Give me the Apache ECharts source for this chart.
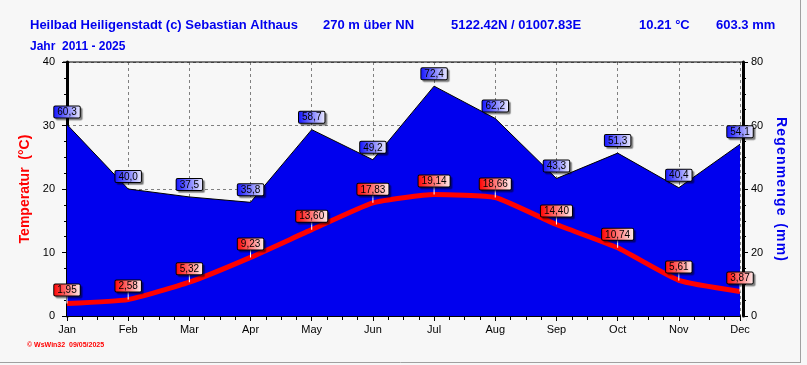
<!DOCTYPE html>
<html>
<head>
<meta charset="utf-8">
<script src="https://cdn.jsdelivr.net/npm/echarts@6/dist/echarts.min.js"></script>
<style>html,body{margin:0;padding:0;background:#f7f7f7;}#c{width:807px;height:365px;}</style>
</head>
<body>
<div id="c"></div>
<script>
const months = ['Jan','Feb','Mar','Apr','May','Jun','Jul','Aug','Sep','Oct','Nov','Dec'];
const temperature = [1.95, 2.58, 5.32, 9.23, 13.60, 17.83, 19.14, 18.66, 14.40, 10.74, 5.61, 3.87];
const rainfall = [60.3, 40.0, 37.5, 35.8, 58.7, 49.2, 72.4, 62.2, 43.3, 51.3, 40.4, 54.1];
const tempTicks = [0, 10, 20, 30, 40];
const rainTicks = [0, 20, 40, 60, 80];

const tempData = temperature.map((v, i) => [i, v]);
const rainData = rainfall.map((v, i) => [i, v]);
const blue = '#0000ee';
const font = 'Liberation Sans, Arial, sans-serif';
const spaced = s => s.split('').join('\u200A');

const chart = echarts.init(document.getElementById('c'), null, {renderer: 'canvas'});
const titleStyle = {fontSize: 13, fontWeight: 'bold', color: blue, fontFamily: font};
const labelBase = {
  show: true, position: 'top', color: '#000', fontSize: 10, fontFamily: font,
  borderColor: '#000', borderWidth: 1, borderRadius: 1, padding: [1, 3, 0, 3],
  shadowColor: 'rgba(0,0,0,0.35)', shadowOffsetX: 2, shadowOffsetY: 2, shadowBlur: 1
};
chart.setOption({
  backgroundColor: '#f7f7f7',
  animation: false,
  title: [
    {text: 'Heilbad Heiligenstadt (c) Sebastian Althaus', left: 30, top: 19, padding: 0, textStyle: titleStyle},
    {text: '270 m über NN', left: 323, top: 19, padding: 0, textStyle: titleStyle},
    {text: '5122.42N / 01007.83E', left: 451, top: 19, padding: 0, textStyle: titleStyle},
    {text: '10.21 °C', left: 639, top: 19, padding: 0, textStyle: titleStyle},
    {text: '603.3 mm', left: 716, top: 19, padding: 0, textStyle: titleStyle},
    {text: 'Jahr  2011 - 2025', left: 30, top: 41, padding: 0, textStyle: Object.assign({}, titleStyle, {fontSize: 12})},
    {text: '© WsWin32  09/05/2025', left: 27, top: 342, padding: 0, textStyle: {fontSize: 7, fontWeight: 'bold', color: '#ff0000', fontFamily: font}}
  ],
  graphic: [
    {type: 'line', shape: {x1: 63, y1: 62, x2: 743, y2: 62}, style: {stroke: '#000', lineWidth: 1}, z: 50},
    {type: 'line', shape: {x1: 800.5, y1: 0, x2: 800.5, y2: 363}, style: {stroke: '#a0a0a0', lineWidth: 1}},
    {type: 'line', shape: {x1: 0, y1: 362.5, x2: 801, y2: 362.5}, style: {stroke: '#a0a0a0', lineWidth: 1}}
  ],
  grid: {left: 67, right: 67, top: 62, bottom: 49, containLabel: false},
  xAxis: {
    type: 'value', min: 0, max: months.length - 1, interval: 1,
    axisLine: {show: true, lineStyle: {color: '#000', width: 2}},
    axisTick: {show: true, length: 5, lineStyle: {color: '#000'}},
    minorTick: {show: true, splitNumber: 4, length: 4, lineStyle: {color: '#000'}},
    axisLabel: {formatter: v => months[v] || '', color: '#000', fontSize: 11, fontFamily: font, margin: 8},
    splitLine: {show: true, lineStyle: {color: '#808080', type: [3, 3], width: 1}}
  },
  yAxis: [
    {
      type: 'value', min: tempTicks[0], max: tempTicks[tempTicks.length - 1], interval: 10, position: 'left', offset: 4,
      name: 'Temperatur  (°C)', nameLocation: 'middle', nameGap: 30, nameRotate: 90,
      nameTextStyle: {color: '#ff0000', fontWeight: 'bold', fontSize: 14, fontFamily: font},
      axisLine: {show: true, lineStyle: {color: '#000', width: 3}},
      axisTick: {show: true, length: 5, lineStyle: {color: '#000'}},
      minorTick: {show: true, splitNumber: 4, length: 3, lineStyle: {color: '#000'}},
      axisLabel: {color: '#000', fontSize: 11, fontFamily: font, margin: 8},
      splitLine: {show: true, lineStyle: {color: '#808080', type: [3, 3], width: 1}}
    },
    {
      type: 'value', min: rainTicks[0], max: rainTicks[rainTicks.length - 1], interval: 20, position: 'right', offset: 3,
      name: spaced('Regenmenge') + '  ' + spaced('(mm)'), nameLocation: 'middle', nameGap: 30, nameRotate: -90,
      nameTextStyle: {color: blue, fontWeight: 'bold', fontSize: 14, fontFamily: font},
      axisLine: {show: true, lineStyle: {color: '#000', width: 3}},
      axisTick: {show: true, length: 5, lineStyle: {color: '#000'}},
      minorTick: {show: true, splitNumber: 4, length: 3, lineStyle: {color: '#000'}},
      axisLabel: {color: '#000', fontSize: 11, fontFamily: font, margin: 8},
      splitLine: {show: false}
    }
  ],
  series: [
    {
      type: 'line', name: 'Regen', yAxisIndex: 1, data: rainData, symbol: 'none', z: 2,
      lineStyle: {color: '#000', width: 1},
      areaStyle: {color: blue, opacity: 1}
    },
    {
      type: 'scatter', name: 'RegenLabels', yAxisIndex: 1, data: rainData, symbol: 'rect', symbolSize: [1, 7], symbolOffset: [0, -3.5],
      itemStyle: {color: 'rgba(0,0,0,0)', opacity: 1}, z: 5, silent: true,
      label: Object.assign({}, labelBase, {
        distance: 0,
        formatter: p => p.value[1].toFixed(1).replace('.', ','),
        backgroundColor: {type: 'linear', x: 0, y: 0, x2: 1, y2: 0, colorStops: [{offset: 0, color: '#1010ff'}, {offset: 1, color: '#eeeeff'}]}
      })
    },
    {
      type: 'line', name: 'Temperatur', yAxisIndex: 0, data: tempData, symbol: 'none',
      smooth: 0.15, z: 3,
      lineStyle: {color: '#ff0000', width: 5}
    },
    {
      type: 'scatter', name: 'TempLabels', yAxisIndex: 0, data: tempData, symbol: 'rect', symbolSize: [1, 8], symbolOffset: [0, -4],
      itemStyle: {color: '#ffffff', opacity: 1}, z: 5, silent: true,
      label: Object.assign({}, labelBase, {
        distance: 0,
        formatter: p => p.value[1].toFixed(2).replace('.', ','),
        backgroundColor: {type: 'linear', x: 0, y: 0, x2: 1, y2: 0, colorStops: [{offset: 0, color: '#ff0000'}, {offset: 1, color: '#ffeeee'}]}
      })
    }
  ]
});
</script>
</body>
</html>
